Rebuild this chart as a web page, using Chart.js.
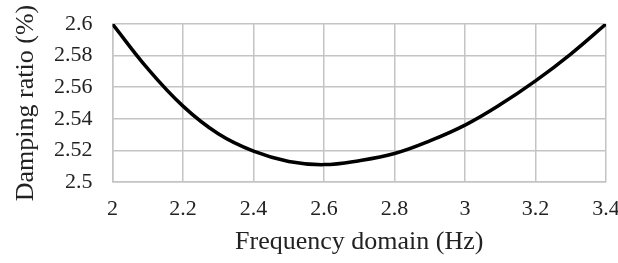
<!DOCTYPE html>
<html>
<head>
<meta charset="utf-8">
<script src="https://cdn.jsdelivr.net/npm/chart.js@4"></script>
<style>
  html, body { margin: 0; padding: 0; background: #fff; }
  #wrap { width: 618px; height: 263px; }
</style>
</head>
<body>
<div id="wrap"><canvas id="chart" width="618" height="263"></canvas></div>
<script>
// frequency (Hz) and damping ratio (%)
const FREQ = [2.0, 2.1, 2.2, 2.3, 2.4, 2.5, 2.6, 2.7, 2.8, 2.9, 3.0, 3.1, 3.2, 3.3, 3.4];
const DAMPING = [2.600, 2.5717, 2.548, 2.5305, 2.5195, 2.513, 2.511, 2.5135, 2.518, 2.526, 2.536, 2.549, 2.564, 2.581, 2.600];

const X_TICKS = [2, 2.2, 2.4, 2.6, 2.8, 3, 3.2, 3.4];
const Y_TICKS = [2.5, 2.52, 2.54, 2.56, 2.58, 2.6];

const SERIF = "'Liberation Serif', 'Times New Roman', serif";
const GRID = '#c4c4c4';

function fixTicks(list) {
  return function (scale) {
    scale.ticks = list.map(function (v) { return { value: v }; });
  };
}

function label(v) {
  return String(+Number(v).toFixed(2));
}

new Chart(document.getElementById('chart'), {
  type: 'line',
  data: {
    datasets: [{
      data: FREQ.map(function (f, i) { return { x: f, y: DAMPING[i] }; }),
      borderColor: '#000',
      borderWidth: 3.5,
      pointRadius: 0,
      fill: false,
      tension: 0.4,
    }],
  },
  options: {
    responsive: false,
    animation: false,
    layout: { padding: { top: 24, right: 12, left: 0, bottom: 0 } },
    plugins: { legend: { display: false }, tooltip: { enabled: false } },
    scales: {
      x: {
        type: 'linear',
        min: 2, max: 3.4,
        afterBuildTicks: fixTicks(X_TICKS),
        afterFit: function (s) { s.height = 81; s.paddingLeft = 0; s.paddingRight = 0; },
        grid: { color: GRID, lineWidth: 1.5, drawTicks: false },
        border: { color: GRID, width: 1.5 },
        ticks: {
          color: '#222', padding: 14,
          font: { family: SERIF, size: 22, lineHeight: 1.2 },
          callback: label,
        },
        title: {
          display: true, text: 'Frequency domain (Hz)', color: '#222',
          font: { family: SERIF, size: 26, lineHeight: 1.2 },
          padding: { bottom: 5, top: 0 },
        },
      },
      y: {
        min: 2.5, max: 2.6,
        afterBuildTicks: fixTicks(Y_TICKS),
        afterFit: function (s) { s.width = 112.5; s.paddingTop = 0; s.paddingBottom = 0; },
        grid: { color: GRID, lineWidth: 1.5, drawTicks: false },
        border: { color: GRID, width: 1.5 },
        ticks: {
          color: '#222', padding: 20,
          font: { family: SERIF, size: 22, lineHeight: 1.2 },
          callback: label,
        },
        title: {
          display: true, text: 'Damping ratio (%)', color: '#222',
          font: { family: SERIF, size: 26, lineHeight: 1.2 },
          padding: { top: 11, bottom: 0 },
        },
      },
    },
  },
});
</script>
</body>
</html>
